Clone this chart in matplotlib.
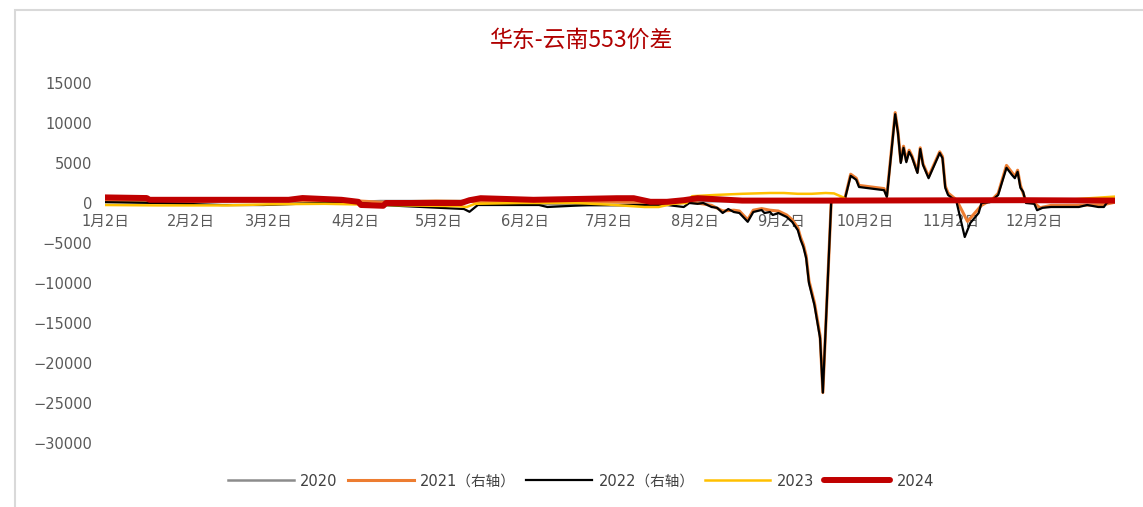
import matplotlib
matplotlib.use('Agg')
import matplotlib.pyplot as plt
from matplotlib.patches import Rectangle

plt.rcParams['font.family'] = ['DejaVu Sans', 'Noto Sans CJK SC']

# day index: 0 = Jan 1 (non-leap calendar)
tick_days = [1, 32, 60, 91, 121, 152, 182, 213, 244, 274, 305, 335]
tick_labels = ['1月2日', '2月2日', '3月2日', '4月2日', '5月2日', '6月2日',
               '7月2日', '8月2日', '9月2日', '10月2日', '11月2日', '12月2日']
y_ticks = [15000, 10000, 5000, 0, -5000, -10000, -15000, -20000, -25000, -30000]

days_2020 = [1, 30, 60, 90, 100, 130, 140, 175, 200, 212, 250, 300, 364]
vals_2020 = [300, 200, 200, 100, 250, 250, 100, -300, -300, 200, 300, 300, 300]

days_2021 = [1, 30, 60, 90, 100, 120, 150, 180, 205, 211, 214, 219, 223, 227, 229,
             232, 234, 237, 240, 243, 246, 248, 250, 251, 252, 253, 254, 256, 258,
             259, 262, 267, 269, 271, 272, 281, 282, 285, 286, 287, 288, 289, 290,
             291, 293, 294, 295, 297, 301, 302, 303, 304, 307, 311, 316, 320, 322,
             325, 327, 328, 329, 330, 332, 335, 337, 341, 350, 360, 364]
vals_2021 = [300, 200, 250, 300, 100, 250, 100, 150, 0, 100, 0, -300, -1000, -900, -1000,
             -2100, -900, -700, -900, -1000, -1500, -2100, -3100, -4300, -5200, -6600, -9700, -12500, -16600,
             -23700, 100, 700, 3600, 3100, 2200, 1800, 900, 11300, 8900, 5200, 7100, 5300, 6600,
             5900, 3900, 6900, 4900, 3300, 6400, 5800, 2100, 1250, 400, -2300, -300, 500, 1200,
             4700, 3800, 3300, 4100, 2200, 200, 0, -600, -300, -300, -200, 100]

days_2022 = [1, 20, 43, 58, 79, 93, 100, 130, 132, 135, 157, 160, 175, 203, 209, 211,
             214, 216, 219, 221, 223, 225, 227, 229, 232, 234, 237, 238, 240, 241, 243,
             246, 248, 250, 251, 252, 253, 254, 256, 258, 259, 262, 267, 269, 271, 272,
             281, 282, 285, 286, 287, 288, 289, 290, 291, 293, 294, 295, 297, 301, 302,
             303, 304, 307, 310, 312, 315, 316, 319, 322, 325, 327, 328, 329, 330, 331,
             332, 335, 336, 338, 341, 347, 351, 354, 358, 360, 361, 362]
vals_2022 = [100, 0, -250, -250, 0, 0, -250, -750, -1100, -250, -250, -500, -250, -250, -500, 0,
             -100, 0, -500, -600, -1250, -750, -1125, -1250, -2350, -1125, -875, -1250, -1125, -1500, -1250,
             -1750, -2375, -3400, -4600, -5500, -6900, -10000, -12800, -16900, -23700, 100, 600, 3400, 2900, 2000,
             1600, 750, 11100, 8750, 5000, 6900, 5100, 6400, 5750, 3750, 6750, 4750, 3100, 6250, 5600,
             1900, 1000, 200, -4250, -2500, -1250, 0, 100, 1000, 4400, 3500, 3100, 3900, 1900, 1400,
             0, -100, -900, -600, -500, -500, -500, -250, -500, -500, 0, 200]

days_2023 = [1, 20, 45, 62, 80, 95, 110, 128, 131, 134, 150, 170, 182, 195, 200, 205, 210,
             212, 220, 230, 240, 245, 250, 255, 260, 263, 266, 268, 280, 300, 320, 345, 355, 364]
vals_2023 = [-250, -300, -300, -150, -100, -200, -300, -400, -500, -100, 0, 0, -200, -500, -500, -100, 0,
             850, 1000, 1150, 1250, 1250, 1150, 1150, 1250, 1200, 750, 300, 250, 300, 300, 350, 600, 800]

days_2024 = [1, 16, 17, 67, 72, 86, 92, 93, 101, 102, 129, 132, 136, 155, 185, 191, 197,
             203, 209, 214, 230, 260, 300, 330, 364]
vals_2024 = [700, 620, 400, 400, 620, 400, 150, -250, -350, 0, 0, 350, 600, 400, 600, 600, 150,
             150, 350, 600, 300, 300, 330, 350, 300]

W, H = 1143, 507
fig = plt.figure(figsize=(W / 100, H / 100), dpi=100)

# light frame around the chart
fig.patches.append(Rectangle((15 / W, -0.1), 1.2, 1.1 - 10 / H, transform=fig.transFigure,
                             fill=False, edgecolor='#d9d9d9', linewidth=1.5))

ax = fig.add_axes([105 / W, 32 / H, 1010 / W, 408 / H])

ax.plot(days_2020, vals_2020, color='#8c8c8c', lw=1.8, label='2020')
ax.plot(days_2021, vals_2021, color='#ed7d31', lw=2.2, label='2021（右轴）')
ax.plot(days_2022, vals_2022, color='#000000', lw=1.6, label='2022（右轴）')
ax.plot(days_2023, vals_2023, color='#ffc000', lw=1.8, label='2023')
ax.plot(days_2024, vals_2024, color='#c00000', lw=4.3, label='2024', solid_capstyle='round')

ax.set_xlim(1, 364)
ax.set_ylim(-34000, 17000)
ax.set_yticks(y_ticks)
ax.set_yticklabels([f'{v}'.replace('-', '\u2212') for v in y_ticks])
ax.set_xticks(tick_days)
ax.set_xticklabels(tick_labels)

for s in ax.spines.values():
    s.set_visible(False)
ax.spines['bottom'].set_position(('data', 0))
ax.tick_params(axis='x', length=0, pad=8, labelsize=10.5, labelcolor='#595959')
ax.tick_params(axis='y', length=0, pad=9, labelsize=10.5, labelcolor='#595959')

fig.text(582 / W, 1 - 40 / H, '华东-云南553价差', ha='center', va='center',
         fontsize=16.5, color='#b00000', family=['Noto Sans CJK SC'])

leg = fig.legend(loc='center', bbox_to_anchor=(581 / W, 1 - 481 / H), ncol=5, frameon=False,
                 fontsize=10.5, handlelength=4.5, handletextpad=0.45, columnspacing=0.7)
for t in leg.get_texts():
    t.set_color('#404040')

fig.savefig('out.png', dpi=100)
